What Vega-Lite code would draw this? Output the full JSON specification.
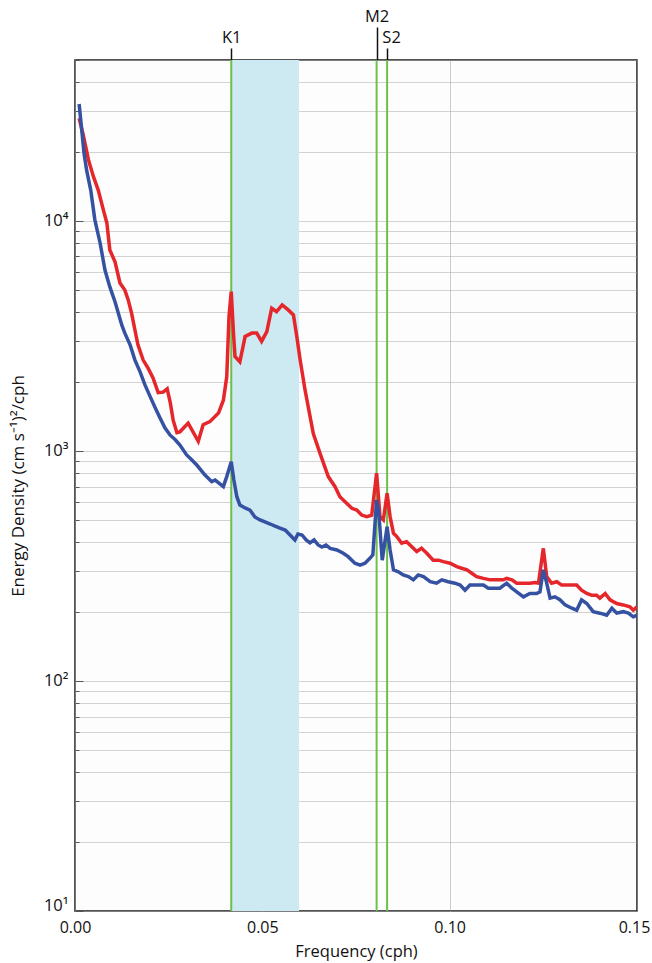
{
  "$schema": "https://vega.github.io/schema/vega-lite/v6.json",
  "width": 562,
  "height": 851,
  "autosize": "none",
  "padding": {"left": 75, "top": 60, "right": 15, "bottom": 52},
  "background": "white",
  "config": {
    "view": {"stroke": "#1a1a1a", "strokeWidth": 1.5, "fill": "#fdfdfd"},
    "font": "Open Sans",
    "axis": {
      "labelFont": "Open Sans",
      "titleFont": "Open Sans",
      "labelColor": "#111",
      "titleColor": "#111",
      "titleFontWeight": "normal",
      "labelFontSize": 16.5,
      "titleFontSize": 16.5,
      "labelFlush": false
    }
  },
  "datasets": {
    "band": [{"start": 0.0417, "end": 0.0598}],
    "constA": [{"name": "K1", "freq": 0.0417}, {"name": "S2", "freq": 0.0833}],
    "constB": [{"name": "M2", "freq": 0.0805}],
    "spectra": [
      {"series":"Red","freq":0.0011,"energy":27900},{"series":"Red","freq":0.0022,"energy":23600},{"series":"Red","freq":0.0036,"energy":18400},{"series":"Red","freq":0.0049,"energy":15600},{"series":"Red","freq":0.0062,"energy":13600},{"series":"Red","freq":0.0076,"energy":11100},{"series":"Red","freq":0.0085,"energy":9790},{"series":"Red","freq":0.0093,"energy":7470},{"series":"Red","freq":0.0107,"energy":6620},{"series":"Red","freq":0.0120,"energy":5370},{"series":"Red","freq":0.0133,"energy":5000},{"series":"Red","freq":0.0142,"energy":4530},{"series":"Red","freq":0.0151,"energy":3970},{"series":"Red","freq":0.0160,"energy":3350},{"series":"Red","freq":0.0168,"energy":2890},{"series":"Red","freq":0.0182,"energy":2480},{"series":"Red","freq":0.0195,"energy":2290},{"series":"Red","freq":0.0208,"energy":2080},{"series":"Red","freq":0.0222,"energy":1790},{"series":"Red","freq":0.0235,"energy":1800},{"series":"Red","freq":0.0246,"energy":1860},{"series":"Red","freq":0.0254,"energy":1630},{"series":"Red","freq":0.0262,"energy":1360},{"series":"Red","freq":0.0272,"energy":1200},{"series":"Red","freq":0.0280,"energy":1210},{"series":"Red","freq":0.0302,"energy":1320},{"series":"Red","freq":0.0329,"energy":1100},{"series":"Red","freq":0.0342,"energy":1300},{"series":"Red","freq":0.0360,"energy":1340},{"series":"Red","freq":0.0383,"energy":1460},{"series":"Red","freq":0.0396,"energy":1660},{"series":"Red","freq":0.0405,"energy":2100},{"series":"Red","freq":0.0411,"energy":3830},{"series":"Red","freq":0.0417,"energy":4920},{"series":"Red","freq":0.0423,"energy":3250},{"series":"Red","freq":0.0427,"energy":2570},{"series":"Red","freq":0.0440,"energy":2440},{"series":"Red","freq":0.0454,"energy":3140},{"series":"Red","freq":0.0472,"energy":3250},{"series":"Red","freq":0.0485,"energy":3250},{"series":"Red","freq":0.0498,"energy":2990},{"series":"Red","freq":0.0512,"energy":3300},{"series":"Red","freq":0.0525,"energy":4170},{"series":"Red","freq":0.0538,"energy":4030},{"series":"Red","freq":0.0553,"energy":4310},{"series":"Red","freq":0.0569,"energy":4100},{"series":"Red","freq":0.0583,"energy":3900},{"series":"Red","freq":0.0592,"energy":3140},{"series":"Red","freq":0.0601,"energy":2480},{"series":"Red","freq":0.0614,"energy":1840},{"series":"Red","freq":0.0636,"energy":1190},{"series":"Red","freq":0.0654,"energy":975},{"series":"Red","freq":0.0676,"energy":773},{"series":"Red","freq":0.0694,"energy":699},{"series":"Red","freq":0.0707,"energy":632},{"series":"Red","freq":0.0725,"energy":592},{"series":"Red","freq":0.0739,"energy":563},{"series":"Red","freq":0.0752,"energy":553},{"series":"Red","freq":0.0765,"energy":526},{"series":"Red","freq":0.0779,"energy":518},{"series":"Red","freq":0.0792,"energy":526},{"series":"Red","freq":0.0805,"energy":800},{"series":"Red","freq":0.0814,"energy":518},{"series":"Red","freq":0.0823,"energy":501},{"series":"Red","freq":0.0833,"energy":654},{"series":"Red","freq":0.0841,"energy":518},{"series":"Red","freq":0.0850,"energy":438},{"series":"Red","freq":0.0859,"energy":424},{"series":"Red","freq":0.0872,"energy":397},{"series":"Red","freq":0.0885,"energy":403},{"series":"Red","freq":0.0899,"energy":383},{"series":"Red","freq":0.0912,"energy":365},{"series":"Red","freq":0.0925,"energy":377},{"series":"Red","freq":0.0939,"energy":359},{"series":"Red","freq":0.0956,"energy":335},{"series":"Red","freq":0.0970,"energy":335},{"series":"Red","freq":0.0983,"energy":330},{"series":"Red","freq":0.1001,"energy":325},{"series":"Red","freq":0.1019,"energy":314},{"series":"Red","freq":0.1032,"energy":309},{"series":"Red","freq":0.1046,"energy":304},{"series":"Red","freq":0.1059,"energy":294},{"series":"Red","freq":0.1072,"energy":284},{"series":"Red","freq":0.1090,"energy":279},{"series":"Red","freq":0.1108,"energy":275},{"series":"Red","freq":0.1126,"energy":275},{"series":"Red","freq":0.1143,"energy":275},{"series":"Red","freq":0.1152,"energy":279},{"series":"Red","freq":0.1166,"energy":275},{"series":"Red","freq":0.1179,"energy":266},{"series":"Red","freq":0.1197,"energy":266},{"series":"Red","freq":0.1214,"energy":266},{"series":"Red","freq":0.1228,"energy":268},{"series":"Red","freq":0.1237,"energy":266},{"series":"Red","freq":0.1250,"energy":377},{"series":"Red","freq":0.1259,"energy":284},{"series":"Red","freq":0.1272,"energy":266},{"series":"Red","freq":0.1286,"energy":270},{"series":"Red","freq":0.1299,"energy":261},{"series":"Red","freq":0.1312,"energy":261},{"series":"Red","freq":0.1326,"energy":261},{"series":"Red","freq":0.1339,"energy":261},{"series":"Red","freq":0.1352,"energy":248},{"series":"Red","freq":0.1366,"energy":240},{"series":"Red","freq":0.1379,"energy":236},{"series":"Red","freq":0.1392,"energy":236},{"series":"Red","freq":0.1401,"energy":229},{"series":"Red","freq":0.1415,"energy":240},{"series":"Red","freq":0.1428,"energy":225},{"series":"Red","freq":0.1446,"energy":217},{"series":"Red","freq":0.1463,"energy":214},{"series":"Red","freq":0.1481,"energy":210},{"series":"Red","freq":0.1490,"energy":203},{"series":"Red","freq":0.1500,"energy":210},
      {"series":"Blue","freq":0.0011,"energy":32200},{"series":"Blue","freq":0.0018,"energy":24800},{"series":"Blue","freq":0.0024,"energy":19700},{"series":"Blue","freq":0.0031,"energy":16600},{"series":"Blue","freq":0.0042,"energy":13600},{"series":"Blue","freq":0.0053,"energy":10100},{"series":"Blue","freq":0.0067,"energy":8010},{"series":"Blue","freq":0.0080,"energy":6110},{"series":"Blue","freq":0.0093,"energy":5160},{"series":"Blue","freq":0.0107,"energy":4440},{"series":"Blue","freq":0.0125,"energy":3520},{"series":"Blue","freq":0.0133,"energy":3250},{"series":"Blue","freq":0.0147,"energy":2890},{"series":"Blue","freq":0.0160,"energy":2480},{"series":"Blue","freq":0.0174,"energy":2200},{"series":"Blue","freq":0.0187,"energy":1930},{"series":"Blue","freq":0.0200,"energy":1730},{"series":"Blue","freq":0.0214,"energy":1540},{"series":"Blue","freq":0.0227,"energy":1390},{"series":"Blue","freq":0.0240,"energy":1260},{"series":"Blue","freq":0.0254,"energy":1170},{"series":"Blue","freq":0.0267,"energy":1120},{"series":"Blue","freq":0.0280,"energy":1060},{"series":"Blue","freq":0.0298,"energy":960},{"series":"Blue","freq":0.0312,"energy":913},{"series":"Blue","freq":0.0325,"energy":868},{"series":"Blue","freq":0.0347,"energy":785},{"series":"Blue","freq":0.0365,"energy":735},{"series":"Blue","freq":0.0374,"energy":747},{"series":"Blue","freq":0.0396,"energy":699},{"series":"Blue","freq":0.0405,"energy":773},{"series":"Blue","freq":0.0417,"energy":897},{"series":"Blue","freq":0.0424,"energy":747},{"series":"Blue","freq":0.0432,"energy":632},{"series":"Blue","freq":0.0440,"energy":582},{"series":"Blue","freq":0.0454,"energy":565},{"series":"Blue","freq":0.0467,"energy":553},{"series":"Blue","freq":0.0480,"energy":516},{"series":"Blue","freq":0.0494,"energy":501},{"series":"Blue","freq":0.0507,"energy":491},{"series":"Blue","freq":0.0521,"energy":481},{"series":"Blue","freq":0.0534,"energy":471},{"series":"Blue","freq":0.0547,"energy":462},{"series":"Blue","freq":0.0561,"energy":453},{"series":"Blue","freq":0.0574,"energy":431},{"series":"Blue","freq":0.0587,"energy":410},{"series":"Blue","freq":0.0595,"energy":435},{"series":"Blue","freq":0.0606,"energy":431},{"series":"Blue","freq":0.0617,"energy":410},{"series":"Blue","freq":0.0627,"energy":398},{"series":"Blue","freq":0.0638,"energy":410},{"series":"Blue","freq":0.0649,"energy":390},{"series":"Blue","freq":0.0659,"energy":382},{"series":"Blue","freq":0.0670,"energy":390},{"series":"Blue","freq":0.0681,"energy":377},{"series":"Blue","freq":0.0699,"energy":371},{"series":"Blue","freq":0.0716,"energy":359},{"series":"Blue","freq":0.0729,"energy":347},{"series":"Blue","freq":0.0747,"energy":325},{"series":"Blue","freq":0.0761,"energy":319},{"series":"Blue","freq":0.0774,"energy":325},{"series":"Blue","freq":0.0787,"energy":341},{"series":"Blue","freq":0.0795,"energy":353},{"series":"Blue","freq":0.0805,"energy":612},{"series":"Blue","freq":0.0811,"energy":535},{"series":"Blue","freq":0.0820,"energy":335},{"series":"Blue","freq":0.0833,"energy":468},{"series":"Blue","freq":0.0841,"energy":371},{"series":"Blue","freq":0.0850,"energy":304},{"series":"Blue","freq":0.0863,"energy":298},{"series":"Blue","freq":0.0876,"energy":289},{"series":"Blue","freq":0.0890,"energy":284},{"series":"Blue","freq":0.0903,"energy":275},{"series":"Blue","freq":0.0916,"energy":289},{"series":"Blue","freq":0.0930,"energy":284},{"series":"Blue","freq":0.0948,"energy":270},{"series":"Blue","freq":0.0965,"energy":266},{"series":"Blue","freq":0.0979,"energy":275},{"series":"Blue","freq":0.0996,"energy":270},{"series":"Blue","freq":0.1014,"energy":266},{"series":"Blue","freq":0.1028,"energy":261},{"series":"Blue","freq":0.1041,"energy":248},{"series":"Blue","freq":0.1054,"energy":261},{"series":"Blue","freq":0.1072,"energy":261},{"series":"Blue","freq":0.1090,"energy":261},{"series":"Blue","freq":0.1103,"energy":253},{"series":"Blue","freq":0.1117,"energy":253},{"series":"Blue","freq":0.1134,"energy":253},{"series":"Blue","freq":0.1152,"energy":266},{"series":"Blue","freq":0.1166,"energy":253},{"series":"Blue","freq":0.1179,"energy":244},{"series":"Blue","freq":0.1197,"energy":232},{"series":"Blue","freq":0.1214,"energy":240},{"series":"Blue","freq":0.1232,"energy":240},{"series":"Blue","freq":0.1241,"energy":244},{"series":"Blue","freq":0.1250,"energy":304},{"series":"Blue","freq":0.1259,"energy":266},{"series":"Blue","freq":0.1268,"energy":229},{"series":"Blue","freq":0.1281,"energy":232},{"series":"Blue","freq":0.1295,"energy":225},{"series":"Blue","freq":0.1308,"energy":214},{"series":"Blue","freq":0.1326,"energy":207},{"series":"Blue","freq":0.1339,"energy":203},{"series":"Blue","freq":0.1352,"energy":225},{"series":"Blue","freq":0.1366,"energy":217},{"series":"Blue","freq":0.1383,"energy":200},{"series":"Blue","freq":0.1401,"energy":197},{"series":"Blue","freq":0.1419,"energy":193},{"series":"Blue","freq":0.1433,"energy":207},{"series":"Blue","freq":0.1446,"energy":197},{"series":"Blue","freq":0.1463,"energy":200},{"series":"Blue","freq":0.1477,"energy":197},{"series":"Blue","freq":0.1490,"energy":190},{"series":"Blue","freq":0.1500,"energy":193}
    ]
  },
  "resolve": {"axis": {"x": "independent"}},
  "layer": [
    {
      "data": {"name": "band"},
      "mark": {"type": "rect", "color": "#cde9f1", "opacity": 1},
      "encoding": {
        "x": {
          "field": "start", "type": "quantitative",
          "scale": {"domain": [0, 0.15], "nice": false, "zero": false},
          "axis": {
            "orient": "bottom", "values": [0, 0.05, 0.1, 0.15], "format": ".2f",
            "title": "Frequency (cph)", "ticks": false, "domain": false,
            "labelFontSize": 16,
            "labelOffset": {"condition": {"test": "datum.value > 0.12", "value": -3}, "value": 0},
            "labelPadding": 8, "titlePadding": 8,
            "grid": true, "gridColor": "#999999", "gridDash": [1, 1], "gridWidth": 1
          }
        },
        "x2": {"field": "end"}
      }
    },
    {
      "data": {"name": "constA"},
      "mark": {"type": "rule", "color": "#6cc04b", "strokeWidth": 2},
      "encoding": {
        "x": {
          "field": "freq", "type": "quantitative",
          "axis": {
            "orient": "top", "values": [0.0417, 0.0833], "title": null,
            "labelExpr": "datum.value < 0.06 ? 'K1' : 'S2'",
            "labelOffset": {"condition": {"test": "datum.value > 0.06", "value": 4}, "value": 0},
            "tickSize": 12, "tickColor": "#111", "tickWidth": 1.5,
            "labelPadding": 3, "domain": false, "grid": false
          }
        }
      }
    },
    {
      "data": {"name": "constB"},
      "mark": {"type": "rule", "color": "#6cc04b", "strokeWidth": 2},
      "encoding": {
        "x": {
          "field": "freq", "type": "quantitative",
          "axis": {
            "orient": "top", "values": [0.0805], "title": null,
            "labelExpr": "'M2'",
            "tickSize": 33, "tickColor": "#111", "tickWidth": 1.5,
            "labelPadding": 3, "domain": false, "grid": false
          }
        }
      }
    },
    {
      "data": {"name": "spectra"},
      "mark": {"type": "line", "strokeWidth": 3.5, "clip": true},
      "encoding": {
        "x": {"field": "freq", "type": "quantitative", "axis": null},
        "y": {
          "field": "energy", "type": "quantitative",
          "scale": {"type": "log", "domain": [10, 50000], "nice": false},
          "axis": {
            "values": [10, 20, 30, 40, 50, 60, 70, 80, 90, 100, 200, 300, 400, 500, 600, 700, 800, 900, 1000, 2000, 3000, 4000, 5000, 6000, 7000, 8000, 9000, 10000, 20000, 30000, 40000, 50000],
            "labelExpr": "datum.value == 10 ? '10¹' : datum.value == 100 ? '10²' : datum.value == 1000 ? '10³' : datum.value == 10000 ? '10⁴' : ''",
            "labelOffset": {"condition": {"test": "datum.value == 10", "value": -6}, "value": 0},
            "title": "Energy Density (cm s⁻¹)²/cph",
            "titleFontSize": 17,
            "domain": false,
            "tickColor": "#555",
            "tickSize": {"condition": {"test": "datum.value == 10 || datum.value == 100 || datum.value == 1000 || datum.value == 10000", "value": -8}, "value": -4},
            "labelPadding": 15, "titlePadding": 16, "labelBaseline": "middle",
            "grid": true, "gridColor": "#a8a8a8", "gridDash": [1, 1], "gridWidth": 1
          }
        },
        "color": {
          "field": "series", "type": "nominal",
          "scale": {"domain": ["Red", "Blue"], "range": ["#e5262b", "#3551a2"]},
          "legend": null
        }
      }
    }
  ]
}
